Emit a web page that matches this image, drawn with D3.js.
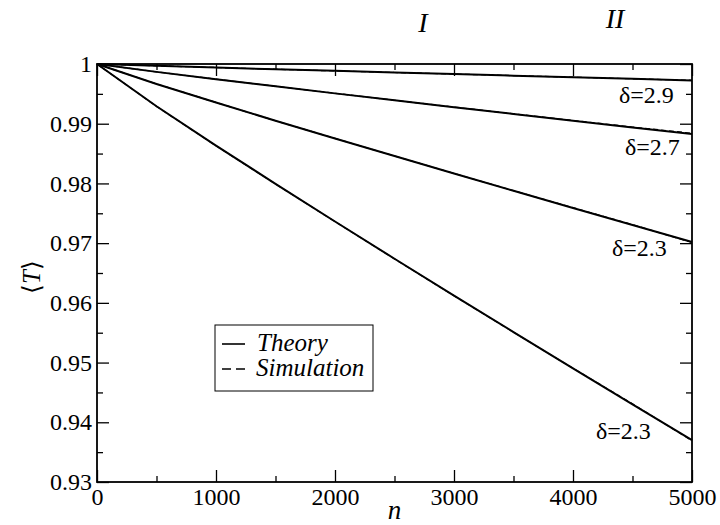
<!DOCTYPE html>
<html>
<head>
<meta charset="utf-8">
<script src="https://cdn.jsdelivr.net/npm/d3@7"></script>
</head>
<body style="margin:0; background:#fff">
<script>
// Transmission <T> versus number of steps n for several exponents delta
const nValues = [0, 500, 1000, 1500, 2000, 2500, 3000, 3500, 4000, 4500, 5000];

const theory29 = [1, 0.99969, 0.99940, 0.99912, 0.99885, 0.99858, 0.99831, 0.99804, 0.99778, 0.99751, 0.99725];
const theory27 = [1, 0.99868, 0.99745, 0.99626, 0.99508, 0.99392, 0.99277, 0.99163, 0.99050, 0.98938, 0.98826];
const theory23a = [1, 0.99666, 0.99354, 0.99051, 0.98752, 0.98458, 0.98166, 0.97876, 0.97589, 0.97304, 0.97020];
const theory23b = [1, 0.99293, 0.98634, 0.97993, 0.97362, 0.96739, 0.96122, 0.95511, 0.94903, 0.94300, 0.93700];

const sim29 = [1, 0.99970, 0.99941, 0.99912, 0.99884, 0.99858, 0.99832, 0.99805, 0.99779, 0.99752, 0.99727];
const sim27 = [1, 0.99869, 0.99746, 0.99627, 0.99510, 0.99393, 0.99279, 0.99166, 0.99055, 0.98945, 0.98840];
const sim23a = [1, 0.99667, 0.99356, 0.99050, 0.98754, 0.98460, 0.98168, 0.97879, 0.97594, 0.97310, 0.97010];
const sim23b = [1, 0.99290, 0.98630, 0.97990, 0.97360, 0.96735, 0.96118, 0.95508, 0.94905, 0.94310, 0.93690];

const curveLabels = ["δ=2.9", "δ=2.7", "δ=2.3", "δ=2.3"];
const xTicks = [0, 1000, 2000, 3000, 4000, 5000];
const xMinorTicks = [500, 1500, 2500, 3500, 4500];
const yTicks = [0.93, 0.94, 0.95, 0.96, 0.97, 0.98, 0.99, 1];
const yMinorTicks = [0.935, 0.945, 0.955, 0.965, 0.975, 0.985, 0.995];
const legendLabels = ["Theory", "Simulation"];
const regionLabels = ["I", "II"];

const W = 720, H = 525;
const FONT = "'Liberation Serif'";
const margin = { left: 97, right: 28, top: 64, bottom: 43 };
const x = d3.scaleLinear().domain([0, 5000]).range([margin.left, W - margin.right]);
const y = d3.scaleLinear().domain([0.93, 1]).range([H - margin.bottom, margin.top]);

const svg = d3.select("body").append("svg").attr("width", W).attr("height", H)
  .style("display", "block").style("font-family", FONT);

// text helper: every label in the Times-style serif
function addText(parent, str, px, opts = {}) {
  const t = parent.append("text").style("font-family", FONT).attr("font-size", px).attr("fill", "#000");
  if (opts.italic) t.attr("font-style", "italic");
  if (opts.anchor) t.attr("text-anchor", opts.anchor);
  t.text(str);
  return t;
}

const fmtY = d => (d === 1 ? "1" : d3.format(".2f")(d));
const majorLen = 12, minorLen = 6;

// axes with inward ticks, mirrored on all four sides
function addAxis(axisGen, transform) {
  const g = svg.append("g").attr("transform", transform).call(axisGen)
    .attr("font-size", 24).attr("font-family", "Liberation Serif").style("font-family", FONT);
  g.select(".domain").remove();
  g.selectAll(".tick line").attr("stroke", "#000").attr("stroke-width", 1.3);
  g.selectAll(".tick text").attr("fill", "#000").style("font-family", FONT);
  return g;
}
const y0 = y.range()[0], y1 = y.range()[1];
const x0 = x.range()[0], x1 = x.range()[1];

// bottom
addAxis(d3.axisBottom(x).tickValues(xTicks).tickSize(-majorLen).tickPadding(6).tickFormat(d3.format("d")), `translate(0,${y0})`);
addAxis(d3.axisBottom(x).tickValues(xMinorTicks).tickSize(-minorLen).tickFormat(""), `translate(0,${y0})`);
// top
addAxis(d3.axisTop(x).tickValues(xTicks).tickSize(-majorLen).tickFormat(""), `translate(0,${y1})`);
addAxis(d3.axisTop(x).tickValues(xMinorTicks).tickSize(-minorLen).tickFormat(""), `translate(0,${y1})`);
// left
addAxis(d3.axisLeft(y).tickValues(yTicks).tickSize(-majorLen).tickPadding(5).tickFormat(fmtY), `translate(${x0},0)`);
addAxis(d3.axisLeft(y).tickValues(yMinorTicks).tickSize(-minorLen).tickFormat(""), `translate(${x0},0)`);
// right
addAxis(d3.axisRight(y).tickValues(yTicks).tickSize(-majorLen).tickFormat(""), `translate(${x1},0)`);
addAxis(d3.axisRight(y).tickValues(yMinorTicks).tickSize(-minorLen).tickFormat(""), `translate(${x1},0)`);

// frame
svg.append("rect").attr("x", x0).attr("y", y1).attr("width", x1 - x0).attr("height", y0 - y1)
  .attr("fill", "none").attr("stroke", "#000").attr("stroke-width", 1.8);

// curves: dashed simulation underneath solid theory
const line = d3.line().x((d, i) => x(nValues[i])).y(d => y(d));
const theorySeries = [theory29, theory27, theory23a, theory23b];
const simSeries = [sim29, sim27, sim23a, sim23b];
const plot = svg.append("g");
simSeries.forEach(s => plot.append("path").attr("d", line(s)).attr("fill", "none")
  .attr("stroke", "#000").attr("stroke-width", 1.2).attr("stroke-dasharray", "5,3"));
theorySeries.forEach(s => plot.append("path").attr("d", line(s)).attr("fill", "none")
  .attr("stroke", "#000").attr("stroke-width", 2));

// curve labels, anchored to each curve's end value
const labelOffsets = [{ dx: -73, dy: 23 }, { dx: -67, dy: 21 }, { dx: -80, dy: 14 }, { dx: -96, dy: -1 }];
theorySeries.forEach((s, i) => {
  addText(svg, curveLabels[i], 24)
    .attr("x", x(5000) + labelOffsets[i].dx).attr("y", y(s[s.length - 1]) + labelOffsets[i].dy);
});

// axis titles
addText(svg, "n", 27, { italic: true, anchor: "middle" }).attr("x", x(2500)).attr("y", 519);
const yTitle = svg.append("text").style("font-family", FONT).attr("font-size", 25).attr("text-anchor", "middle")
  .attr("transform", `translate(40,${(y0 + y1) / 2 + 4}) rotate(-90)`);
yTitle.append("tspan").text("⟨");
yTitle.append("tspan").attr("font-style", "italic").text("T");
yTitle.append("tspan").text("⟩");

// region markers
addText(svg, regionLabels[0], 28, { italic: true, anchor: "middle" }).attr("x", 423).attr("y", 32);
addText(svg, regionLabels[1], 28, { italic: true, anchor: "middle" }).attr("x", 615).attr("y", 28);

// legend
const lg = svg.append("g");
lg.append("rect").attr("x", 215).attr("y", 325).attr("width", 158).attr("height", 66)
  .attr("fill", "#fff").attr("stroke", "#000").attr("stroke-width", 1);
lg.append("line").attr("x1", 222).attr("x2", 245).attr("y1", 344).attr("y2", 344)
  .attr("stroke", "#000").attr("stroke-width", 1.6);
lg.append("line").attr("x1", 222).attr("x2", 245).attr("y1", 369).attr("y2", 369)
  .attr("stroke", "#000").attr("stroke-width", 1.6).attr("stroke-dasharray", "9,5");
addText(lg, legendLabels[0], 25, { italic: true }).attr("x", 257).attr("y", 351);
addText(lg, legendLabels[1], 25, { italic: true }).attr("x", 256).attr("y", 376);
</script>
</body>
</html>
